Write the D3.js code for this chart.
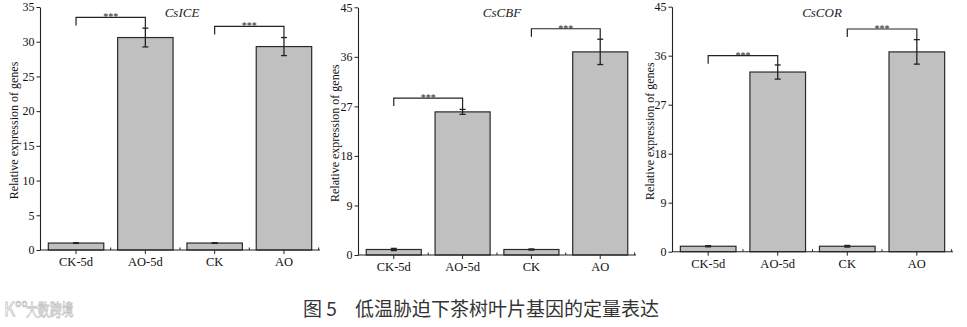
<!DOCTYPE html>
<html>
<head>
<meta charset="utf-8">
<script src="https://cdn.jsdelivr.net/npm/d3@7"></script>
<style>
  html, body { margin: 0; padding: 0; background: #fff; }
  svg { display: block; }
</style>
</head>
<body>
<svg id="chart" width="967" height="327"></svg>
<script>
// Sample groups shared by all three genes
const categories = ["CK-5d", "AO-5d", "CK", "AO"];

// Relative expression (mean) and error (SD) per gene
const iceMeans = [1.0, 30.6, 1.0, 29.3];
const iceErrors = [0.05, 1.35, 0.05, 1.3];
const cbfMeans = [1.0, 26.0, 1.0, 36.9];
const cbfErrors = [0.2, 0.45, 0.1, 2.3];
const corMeans = [1.0, 33.0, 1.0, 36.7];
const corErrors = [0.1, 1.3, 0.15, 2.25];

// Y-axis tick values
const iceTicks = [0, 5, 10, 15, 20, 25, 30, 35];
const cbfTicks = [0, 9, 18, 27, 36, 45];
const corTicks = [0, 9, 18, 27, 36, 45];

// Significance brackets: [from, to, bracket height, label]
const iceSig = [["CK-5d", "AO-5d", 33.5, "***"], ["CK", "AO", 32.2, "***"]];
const cbfSig = [["CK-5d", "AO-5d", 28.5, "***"], ["CK", "AO", 41.1, "***"]];
const corSig = [["CK-5d", "AO-5d", 36.0, "***"], ["CK", "AO", 40.9, "***"]];

const yLabel = "Relative expression of genes";
const captionNo = "图 5";
const captionText = "低温胁迫下茶树叶片基因的定量表达";
const watermark = "大数跨境";

const SERIF = "'Liberation Serif', 'Times New Roman', serif";
const CJK = "'Noto Sans CJK SC', sans-serif";

const panels = [
  { gene: "CsICE", means: iceMeans, errors: iceErrors, ticks: iceTicks, sig: iceSig,
    yMax: 35, x0: 40, x1: 320, yTop: 7, yBot: 250, titleX: 182, labelX: 14 },
  { gene: "CsCBF", means: cbfMeans, errors: cbfErrors, ticks: cbfTicks, sig: cbfSig,
    yMax: 45, x0: 358, x1: 636, yTop: 7.3, yBot: 255, titleX: 502, labelX: 335 },
  { gene: "CsCOR", means: corMeans, errors: corErrors, ticks: corTicks, sig: corSig,
    yMax: 45, x0: 672, x1: 953, yTop: 6.7, yBot: 251.7, titleX: 822, labelX: 650 }
];

const svg = d3.select("#chart");
const ink = "#222";

panels.forEach(p => {
  const g = svg.append("g").attr("font-family", SERIF);
  const x = d3.scaleBand().domain(categories).range([p.x0, p.x1])
    .paddingInner(0.2).paddingOuter(0.12);
  const y = d3.scaleLinear().domain([0, p.yMax]).range([p.yBot, p.yTop]);

  const rows = categories.map((c, i) => ({ c, m: p.means[i], e: p.errors[i] }));
  const cx = d => x(d.c) + x.bandwidth() / 2;

  // bars
  g.selectAll("rect.bar").data(rows).join("rect")
    .attr("class", "bar")
    .attr("x", d => x(d.c))
    .attr("y", d => y(d.m))
    .attr("width", x.bandwidth())
    .attr("height", d => y(0) - y(d.m))
    .attr("fill", "#c0c0c0")
    .attr("stroke", "#2a2a2a")
    .attr("stroke-width", 1.2);

  // error bars
  const cap = 3;
  const eb = g.selectAll("g.err").data(rows).join("g").attr("class", "err")
    .attr("stroke", ink).attr("stroke-width", 1.3);
  eb.append("line")
    .attr("x1", cx).attr("x2", cx)
    .attr("y1", d => y(d.m - d.e)).attr("y2", d => y(d.m + d.e));
  eb.append("line")
    .attr("x1", d => cx(d) - cap).attr("x2", d => cx(d) + cap)
    .attr("y1", d => y(d.m + d.e)).attr("y2", d => y(d.m + d.e));
  eb.append("line")
    .attr("x1", d => cx(d) - cap).attr("x2", d => cx(d) + cap)
    .attr("y1", d => y(d.m - d.e)).attr("y2", d => y(d.m - d.e));

  // x axis: major ticks at the groups, minor ticks between groups
  const xAxis = g.append("g").attr("transform", `translate(0,${p.yBot})`)
    .call(d3.axisBottom(x).tickSize(4).tickPadding(3).tickSizeOuter(0))
    .attr("font-family", SERIF).attr("font-size", 12.5);
  xAxis.select(".domain").attr("stroke", ink).attr("stroke-width", 1.1)
    .attr("d", `M${p.x0},0H${p.x1}`);
  xAxis.selectAll(".tick line").attr("stroke", ink);
  xAxis.selectAll(".tick text").attr("fill", "#111");
  const step = x.step();
  const bounds = categories.slice(1).map(c => x(c) - step * x.paddingInner() / 2)
    .concat([x(categories[3]) + x.bandwidth() + step * x.paddingInner() / 2]);
  g.selectAll("line.minor").data(bounds).join("line").attr("class", "minor")
    .attr("x1", d => d).attr("x2", d => d)
    .attr("y1", p.yBot).attr("y2", p.yBot - 2.5)
    .attr("stroke", ink).attr("stroke-width", 1);

  // y axis
  const yAxis = g.append("g").attr("transform", `translate(${p.x0},0)`)
    .call(d3.axisLeft(y).tickValues(p.ticks).tickSize(3.5).tickPadding(2).tickSizeOuter(0))
    .attr("font-family", SERIF).attr("font-size", 12);
  yAxis.select(".domain").attr("stroke", ink).attr("stroke-width", 1.1);
  yAxis.selectAll(".tick line").attr("stroke", ink);
  yAxis.selectAll(".tick text").attr("fill", "#111");

  // y label
  g.append("text")
    .attr("transform", `translate(${p.labelX},${(p.yTop + p.yBot) / 2 + 2}) rotate(-90)`)
    .attr("text-anchor", "middle")
    .attr("dominant-baseline", "central")
    .attr("font-size", 12)
    .attr("fill", "#111")
    .text(yLabel);

  // gene title
  g.append("text")
    .attr("x", p.titleX).attr("y", 17)
    .attr("text-anchor", "middle")
    .attr("font-size", 13).attr("font-style", "italic").attr("font-weight", "normal")
    .attr("fill", "#222")
    .text(p.gene);

  // significance brackets
  p.sig.forEach(([a, b, h, lab]) => {
    const xa = x(a) + x.bandwidth() / 2;
    const xb = x(b) + x.bandwidth() / 2;
    const ib = categories.indexOf(b);
    const yb = y(p.means[ib] + p.errors[ib]);
    const yt = y(h);
    g.append("path")
      .attr("d", `M${xa},${yt + 8}V${yt}H${xb}V${yb}`)
      .attr("fill", "none").attr("stroke", ink).attr("stroke-width", 1.2);
    g.append("text")
      .attr("x", (xa + xb) / 2).attr("y", yt + 3)
      .attr("text-anchor", "middle")
      .attr("font-size", 10)
      .attr("fill", "#222")
      .text(lab);
  });
});

// watermark (faint outlined lettering)
const wm = svg.append("g").attr("font-family", CJK)
  .attr("fill", "#fff").attr("stroke", "#c4c4c4").attr("stroke-width", 0.8);
wm.append("text").attr("transform", "translate(4,316) scale(0.9,1)")
  .attr("font-size", 19).text("K°°");
wm.append("text").attr("transform", "translate(26,316) scale(0.72,1)")
  .attr("font-size", 16.5).text(watermark);

// figure caption
const cap = svg.append("g").attr("font-family", CJK).attr("font-size", 19).attr("fill", "#333");
cap.append("text").attr("x", 303).attr("y", 316).text(captionNo);
cap.append("text").attr("x", 355).attr("y", 316).text(captionText);
</script>
</body>
</html>
